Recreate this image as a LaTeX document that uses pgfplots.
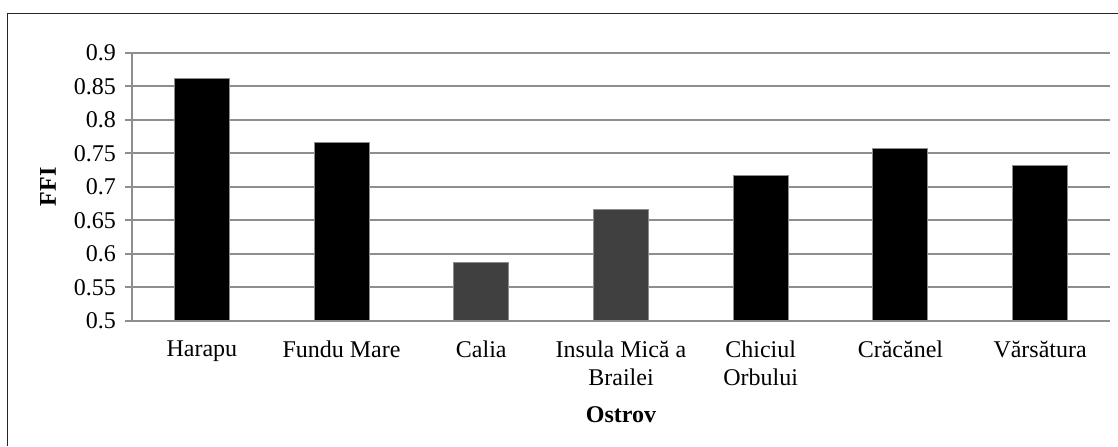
\documentclass[border=0pt]{standalone}
\usepackage{pgfplots}
\pgfplotsset{compat=1.18}
\usepackage{fontspec}
\setmainfont{Liberation Serif}

\definecolor{gridgray}{HTML}{8E8E8E}
\definecolor{darkbar}{HTML}{404040}

\begin{document}
\begin{tikzpicture}
% page: 1118 x 446 px at 0.5pt per px
\useasboundingbox (0,0) rectangle (559pt,223pt);
\draw[black!85, line width=0.6pt] (3.7pt,0) -- (3.7pt,216.4pt) -- (559pt,216.4pt);
\begin{axis}[
    at={(66pt,62.65pt)}, anchor=south west,
    scale only axis,
    width=489pt, height=134pt,
    ymin=0.5, ymax=0.9,
    ytick={0.5,0.55,...,0.9},
    yticklabel style={/pgf/number format/fixed, /pgf/number format/precision=2},
    /pgf/number format/assume math mode=true,
    xmin=-0.5, xmax=6.5,
    xtick={0,...,6},
    xticklabels={Harapu, Fundu Mare, Calia, {Insula Mică a\\Brailei}, {Chiciul\\Orbului}, Crăcănel, Vărsătura},
    xticklabel style={align=center, font=\fontsize{12}{14}\selectfont, yshift=-3pt},
    yticklabel style={font=\fontsize{12}{14}\selectfont, xshift=-1pt},
    ymajorgrids,
    grid style={gridgray, line width=0.8pt},
    axis x line*=bottom, axis y line*=left,
    axis line style={gridgray, line width=0.8pt},
    x axis line style={-}, y axis line style={-},
    major x tick style={draw=none},
    major y tick style={gridgray, line width=0.8pt},
    tick align=outside, major tick length=3.5pt,
    xlabel={\textbf{Ostrov}},
    ylabel={\textbf{FFI}},
    every axis x label/.style={at={(axis description cs:0.5,0)}, anchor=center,
        yshift=-47pt, font=\fontsize{12}{14}\selectfont},
    every axis y label/.style={at={(axis description cs:0,0.5)}, anchor=center,
        xshift=-42pt, rotate=90, font=\fontsize{12}{14}\selectfont},
    ybar, bar width=27.5pt, bar shift=0pt,
  ]
  \addplot[fill=black, draw=black!45, line width=0.5pt] coordinates {
      (0, 0.862)
      (1, 0.766)
      (4, 0.716)
      (5, 0.757)
      (6, 0.732)
  };
  \addplot[fill=darkbar, draw=black!45, line width=0.5pt] coordinates {
      (2, 0.587)
      (3, 0.666)
  };
\end{axis}
\end{tikzpicture}
\end{document}
